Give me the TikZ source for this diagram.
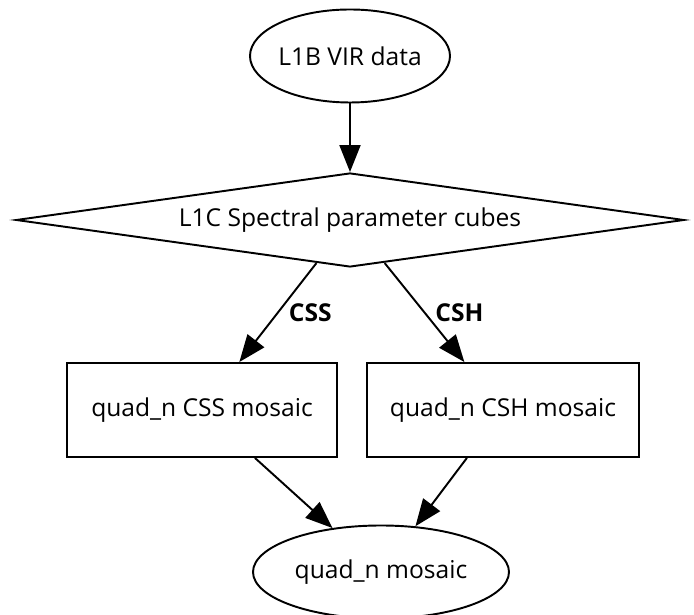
\documentclass[tikz,border=0pt]{standalone}
\usepackage{fontspec}
\setmainfont{Open Sans}
\usetikzlibrary{shapes.geometric,arrows.meta,positioning}

\begin{document}
\begin{tikzpicture}[every node/.style={font=\fontsize{14}{17}\selectfont},
  line width=1.1pt,
  oval/.style={draw, ellipse, inner xsep=-0.6cm, inner ysep=0pt, minimum height=1.86cm},
  cube/.style={draw, diamond, aspect=7.1, inner sep=0pt, minimum width=13.36cm, minimum height=1.88cm},
  mosaic/.style={draw, rectangle, inner sep=0pt, minimum height=1.88cm},
  arr/.style={-{Triangle[length=0.54cm, width=0.42cm]}},
  lbl/.style={font=\fontsize{14}{17}\selectfont\bfseries, inner sep=0pt}]
\useasboundingbox (0,0) rectangle (13.88,12.3);

% Input data and cubes
\node[oval, minimum width=4.0cm] (vir) at (7.0,11.18) {L1B VIR data};
\node[cube] (cubes) at (7.0,7.9) {L1C Spectral parameter cubes};

% Per-parameter mosaics
\node[mosaic, minimum width=5.4cm] (css) at (4.04,4.1) {quad\_n CSS mosaic};
\node[mosaic, minimum width=5.44cm] (csh) at (10.06,4.1) {quad\_n CSH mosaic};

% Final product
\node[oval, minimum width=5.12cm] (quad) at (7.62,0.86) {quad\_n mosaic};

% Edges
\draw[arr] (vir) -- (cubes);
\draw[arr] (cubes) -- node[lbl, right=0.2cm] {CSS} (css);
\draw[arr] (cubes) -- node[lbl, right=0.2cm] {CSH} (csh);
\foreach \src in {css,csh}
  \draw[arr] (\src) -- (quad);
\end{tikzpicture}
\end{document}
